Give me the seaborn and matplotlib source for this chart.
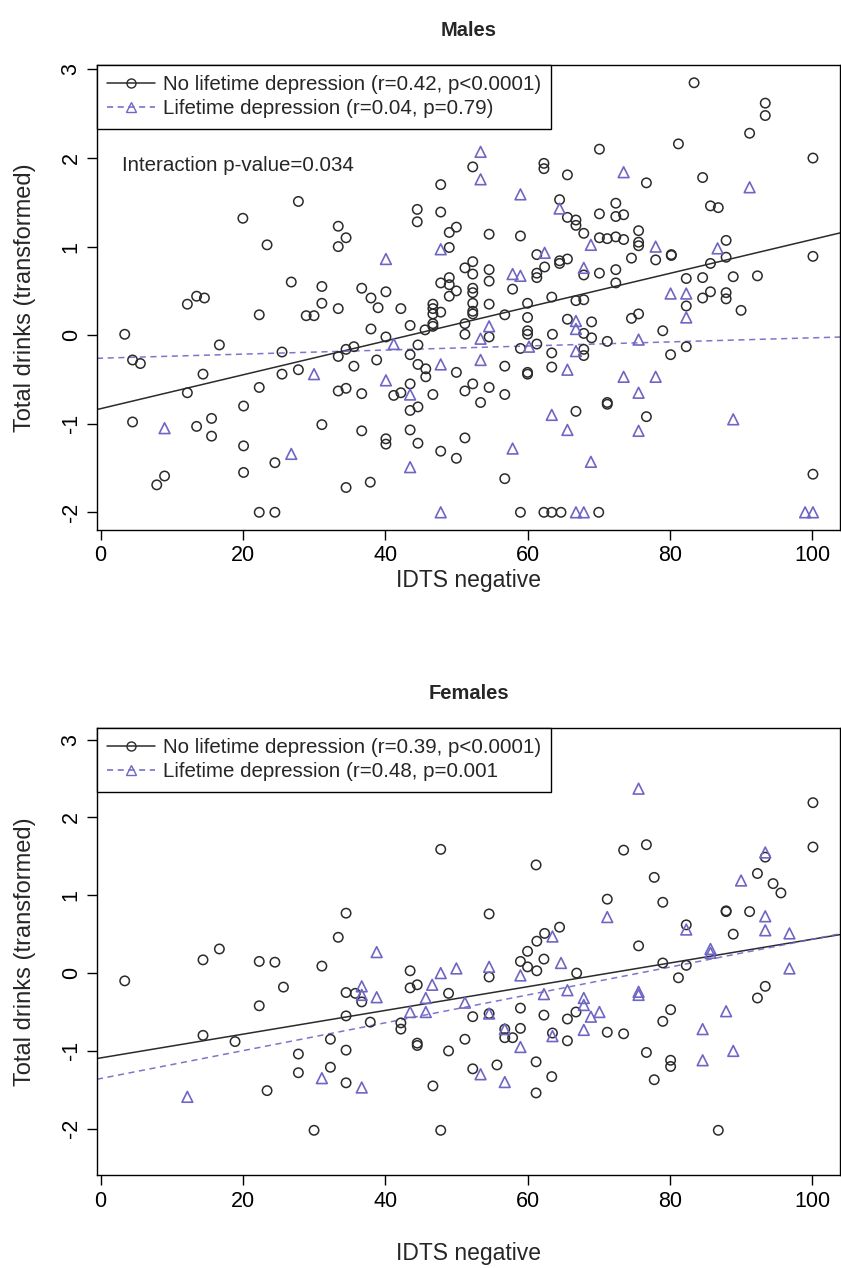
"""Total drinks vs IDTS negative, by sex and lifetime depression."""

import matplotlib

matplotlib.use("Agg")
import matplotlib.pyplot as plt
from matplotlib.lines import Line2D
import pandas as pd
import seaborn as sns

sns.set_theme(style="white")
plt.rcParams["font.family"] = ["Liberation Sans", "DejaVu Sans"]
plt.rcParams["axes.unicode_minus"] = False

INK = "#2b2b2b"
PURPLE = "#6f66c4"

# --- Males: no lifetime depression (x = IDTS negative, y = total drinks) ---
male_none = [
    (83.4, 2.85), (93.4, 2.62), (93.4, 2.48), (91.2, 2.28), (70.1, 2.10), (81.2, 2.16),
    (100.1, 2.0), (76.7, 1.72), (84.6, 1.78), (85.7, 1.46), (86.8, 1.44), (72.4, 1.49),
    (72.4, 1.34), (73.5, 1.36), (70.1, 1.37), (70.1, 1.10), (71.2, 1.09), (72.4, 1.11),
    (73.5, 1.08), (75.6, 1.18), (75.6, 1.05), (75.6, 1.01), (78.0, 0.85), (74.6, 0.87),
    (80.2, 0.90), (80.2, 0.91), (70.1, 0.70), (72.4, 0.74), (72.4, 0.59), (87.9, 1.07),
    (87.9, 0.88), (85.7, 0.81), (82.3, 0.64), (84.6, 0.65), (88.9, 0.66), (92.3, 0.67),
    (100.1, 0.89), (84.6, 0.42), (85.7, 0.49), (87.9, 0.48), (87.9, 0.41), (82.3, 0.33),
    (90.0, 0.28), (74.6, 0.19), (75.6, 0.24), (79.0, 0.05), (69.0, 0.15), (71.2, -0.07),
    (69.0, -0.03),
    (52.3, 1.90), (62.3, 1.94), (62.3, 1.88), (65.6, 1.81), (47.8, 1.70), (64.5, 1.53),
    (44.5, 1.42), (44.5, 1.28), (47.8, 1.39), (65.6, 1.33), (66.8, 1.30), (66.8, 1.24),
    (67.9, 1.15), (50.0, 1.22), (49.0, 1.16), (54.6, 1.14), (59.0, 1.12), (34.5, 1.10),
    (49.0, 0.99), (61.3, 0.91), (52.3, 0.83), (51.2, 0.76), (52.3, 0.69), (54.6, 0.74),
    (54.6, 0.61), (62.4, 0.77), (64.5, 0.84), (64.5, 0.81), (65.6, 0.86), (61.3, 0.70),
    (61.3, 0.65), (67.9, 0.68), (36.7, 0.53), (38.0, 0.42), (39.0, 0.31), (40.1, 0.49),
    (42.2, 0.30), (47.8, 0.59), (49.0, 0.65), (49.0, 0.57), (50.0, 0.50), (49.0, 0.44),
    (52.3, 0.53), (52.3, 0.48), (52.3, 0.36), (52.3, 0.27), (52.3, 0.24), (54.6, 0.35),
    (57.9, 0.52), (46.7, 0.35), (46.7, 0.30), (46.7, 0.24), (47.8, 0.26), (46.7, 0.13),
    (46.7, 0.10), (43.5, 0.11), (45.6, 0.06), (38.0, 0.07), (40.1, -0.02), (51.2, 0.13),
    (56.8, 0.23), (60.0, 0.36), (60.0, 0.20), (60.0, 0.05), (60.0, 0.01), (63.4, 0.43),
    (63.5, 0.01), (65.6, 0.18), (66.8, 0.39), (67.9, 0.40), (67.9, 0.02), (51.2, 0.01),
    (27.8, 1.51), (20.0, 1.32), (23.4, 1.02), (33.4, 1.23), (33.4, 1.00), (26.8, 0.60),
    (31.1, 0.55), (12.2, 0.35), (13.5, 0.44), (14.6, 0.42), (22.3, 0.23), (28.9, 0.22),
    (30.0, 0.22), (31.1, 0.36), (33.4, 0.30), (3.4, 0.01),
    (4.5, -0.28), (5.6, -0.32), (16.7, -0.11), (14.4, -0.44), (12.2, -0.65), (25.5, -0.19),
    (25.5, -0.44), (27.8, -0.39), (33.4, -0.24), (34.5, -0.16), (33.4, -0.63), (34.5, -0.60),
    (22.3, -0.59), (20.1, -0.80), (4.5, -0.98), (13.5, -1.03), (15.6, -0.94), (15.6, -1.14),
    (20.1, -1.25), (20.1, -1.55), (24.5, -1.44), (31.1, -1.01), (7.9, -1.69), (9.0, -1.59),
    (22.3, -2.0), (24.5, -2.0), (34.5, -1.72),
    (35.6, -0.13), (43.5, -0.22), (44.6, -0.11), (35.6, -0.35), (38.8, -0.28), (36.7, -0.66),
    (41.2, -0.68), (42.2, -0.65), (43.5, -0.55), (44.6, -0.33), (45.7, -0.38), (45.7, -0.47),
    (50.0, -0.42), (43.5, -0.85), (44.6, -0.81), (46.7, -0.67), (51.2, -0.63), (52.3, -0.55),
    (54.6, -0.59), (53.4, -0.76), (56.8, -0.35), (56.8, -0.67), (59.0, -0.15), (61.3, -0.10),
    (60.0, -0.42), (60.0, -0.44), (63.4, -0.20), (63.4, -0.36), (67.9, -0.16), (67.9, -0.23),
    (36.7, -1.08), (40.1, -1.17), (40.1, -1.23), (43.5, -1.07), (44.6, -1.22), (47.8, -1.31),
    (50.0, -1.39), (51.2, -1.16), (56.8, -1.62), (37.9, -1.66), (59.0, -2.0), (62.3, -2.0),
    (63.4, -2.0), (64.7, -2.0), (70.0, -2.0), (66.8, -0.86), (54.6, -0.02),
    (80.1, -0.22), (82.3, -0.13), (71.2, -0.76), (71.2, -0.78), (76.7, -0.92), (100.1, -1.57),
]

# --- Males: lifetime depression ---
male_dep = [
    (53.4, 2.07), (53.4, 1.76), (59.0, 1.59), (64.5, 1.43), (73.5, 1.84), (91.2, 1.67),
    (68.9, 1.02), (47.8, 0.97), (40.1, 0.86), (62.4, 0.93), (57.9, 0.69), (59.0, 0.67),
    (67.9, 0.76), (78.0, 1.00), (86.7, 0.98), (80.1, 0.47), (82.3, 0.47), (82.3, 0.20),
    (75.6, -0.05), (54.6, 0.10), (66.8, 0.16), (66.8, 0.07), (53.4, -0.04), (41.2, -0.10),
    (30.0, -0.44), (9.0, -1.05), (26.8, -1.34), (40.1, -0.51), (43.5, -0.67), (47.8, -0.33),
    (53.4, -0.28), (60.2, -0.13), (65.6, -0.39), (66.8, -0.18), (43.5, -1.49), (57.9, -1.28),
    (47.8, -2.0), (66.8, -2.0), (67.9, -2.0), (63.4, -0.90), (65.6, -1.07), (68.9, -1.43),
    (73.5, -0.47), (78.0, -0.47), (75.6, -0.65), (75.6, -1.08), (88.9, -0.95), (99.0, -2.0),
    (100.1, -2.0),
]

# --- Females: no lifetime depression ---
female_none = [
    (34.5, 0.77), (33.4, 0.46), (16.7, 0.31), (14.4, 0.17), (22.3, 0.15), (24.5, 0.14),
    (31.1, 0.09), (3.4, -0.10), (25.7, -0.18), (34.5, -0.25), (22.3, -0.42), (34.5, -0.55),
    (14.4, -0.80), (18.9, -0.88), (27.8, -1.04), (27.8, -1.28), (32.3, -0.85), (32.3, -1.21),
    (34.5, -0.99), (34.5, -1.41), (23.4, -1.51), (30.0, -2.02),
    (47.8, 1.59), (61.2, 1.39), (54.6, 0.76), (64.5, 0.59), (62.4, 0.51), (61.3, 0.41),
    (60.0, 0.28), (59.0, 0.15), (60.0, 0.08), (61.3, 0.03), (62.3, 0.18), (66.9, 0.00),
    (43.5, 0.03), (54.6, -0.05), (44.5, -0.15), (43.5, -0.19),
    (35.8, -0.26), (36.7, -0.37), (48.9, -0.26), (37.9, -0.63), (42.2, -0.64), (42.2, -0.72),
    (52.3, -0.56), (54.6, -0.52), (59.0, -0.45), (62.3, -0.54), (65.6, -0.59), (66.8, -0.50),
    (65.6, -0.87), (63.5, -0.77), (56.8, -0.72), (56.8, -0.83), (57.9, -0.83), (59.0, -0.71),
    (44.5, -0.90), (44.5, -0.93), (48.9, -1.00), (51.2, -0.85), (46.7, -1.45), (52.3, -1.23),
    (55.7, -1.18), (61.2, -1.14), (63.4, -1.33), (61.2, -1.54), (47.8, -2.02),
    (100.1, 2.19), (100.1, 1.62), (93.4, 1.49), (73.5, 1.58), (76.7, 1.65), (92.3, 1.28),
    (94.5, 1.15), (95.6, 1.03), (77.8, 1.23), (71.2, 0.95), (79.0, 0.91), (87.9, 0.79),
    (87.9, 0.80), (91.2, 0.79), (82.3, 0.62), (88.9, 0.50), (75.6, 0.35), (79.0, 0.13),
    (82.3, 0.10), (81.2, -0.06), (93.4, -0.17),
    (92.3, -0.32), (80.1, -0.47), (79.0, -0.62), (71.2, -0.76), (73.5, -0.78), (76.7, -1.02),
    (80.1, -1.12), (80.1, -1.20), (77.8, -1.37), (86.8, -2.02),
]

# --- Females: lifetime depression ---
female_dep = [
    (12.2, -1.59), (31.1, -1.35), (38.8, 0.27), (63.5, 0.47), (64.7, 0.13), (59.0, -0.03),
    (47.8, 0.00), (50.0, 0.06), (54.6, 0.08), (46.6, -0.15), (36.7, -0.17), (36.7, -0.28),
    (38.8, -0.31), (45.7, -0.32), (43.5, -0.50), (45.7, -0.50), (51.2, -0.38), (54.6, -0.52),
    (62.3, -0.27), (65.6, -0.22), (67.9, -0.32), (67.9, -0.41), (68.9, -0.56), (67.9, -0.73),
    (63.5, -0.81), (56.8, -0.72), (59.0, -0.95), (36.7, -1.47), (53.4, -1.30), (56.8, -1.40),
    (75.6, 2.37), (93.4, 1.55), (90.0, 1.19), (71.2, 0.72), (93.4, 0.73), (93.4, 0.55),
    (82.3, 0.56), (96.8, 0.51), (85.7, 0.31), (85.7, 0.26), (96.8, 0.06), (75.6, -0.24),
    (75.6, -0.28), (87.9, -0.49), (84.6, -0.72), (88.9, -1.00), (84.6, -1.12), (70.1, -0.50),
]

# fitted lines: (intercept, slope)
male_fits = [(-0.83, 0.0191), (-0.26, 0.0023)]
female_fits = [(-1.09, 0.01525), (-1.355, 0.0179)]

male_labels = ["No lifetime depression (r=0.42, p<0.0001)",
               "Lifetime depression (r=0.04, p=0.79)"]
female_labels = ["No lifetime depression (r=0.39, p<0.0001)",
                 "Lifetime depression (r=0.48, p=0.001"]

x_ticks = [0, 20, 40, 60, 80, 100]
y_ticks = [-2, -1, 0, 1, 2, 3]


def panel(ax, title, none_pts, dep_pts, fits, labels, ylim, xpad, note=None):
    none_df = pd.DataFrame(none_pts, columns=["idts", "drinks"])
    dep_df = pd.DataFrame(dep_pts, columns=["idts", "drinks"])
    sns.scatterplot(data=none_df, x="idts", y="drinks", marker="o", s=46,
                    facecolor="none", edgecolor=INK, linewidth=1.1, ax=ax, zorder=3)
    sns.scatterplot(data=dep_df, x="idts", y="drinks", marker="^", s=60,
                    facecolor="none", edgecolor=PURPLE, linewidth=1.2, ax=ax, zorder=3)
    ax.axline((0, fits[0][0]), slope=fits[0][1], color=INK, lw=1.1, zorder=2)
    ax.axline((0, fits[1][0]), slope=fits[1][1], color=PURPLE, lw=1.1,
              ls=(0, (4, 3)), alpha=0.9, zorder=2)

    ax.set_xlim(-0.5, 103.9)
    ax.set_ylim(*ylim)
    ax.set_xticks(x_ticks)
    ax.set_yticks(y_ticks)
    ax.tick_params(axis="both", direction="out", length=7, width=1,
                   labelsize=15.5, left=True, bottom=True, colors="black", pad=4)
    for lab in ax.get_yticklabels():
        lab.set_rotation(90)
        lab.set_va("center")
    for sp in ax.spines.values():
        sp.set_color("black")
        sp.set_linewidth(1.0)
    ax.set_xlabel("IDTS negative", fontsize=16.5, labelpad=xpad)
    ax.set_ylabel("Total drinks (transformed)", fontsize=17, labelpad=18)
    ax.set_title(title, fontsize=14.5, fontweight="bold", pad=21)

    handles = [
        Line2D([], [], color=INK, lw=1.1, marker="o", mfc="none", mec=INK, ms=6.5),
        Line2D([], [], color=PURPLE, lw=1.1, ls=(0, (4, 3)), marker="^", mfc="none",
               mec=PURPLE, ms=7.5),
    ]
    leg = ax.legend(handles, labels, loc="upper left", borderaxespad=0, frameon=True,
                    fancybox=False, fontsize=14.8, handlelength=2.3, handletextpad=0.4,
                    borderpad=0.5, labelspacing=0.25)
    leg.get_frame().set_edgecolor("black")
    leg.get_frame().set_linewidth(1.0)
    leg.get_frame().set_alpha(1)
    if note:
        ax.text(0.034, 0.785, note, transform=ax.transAxes, fontsize=14.8,
                ha="left", va="center")


fig = plt.figure(figsize=(8.41, 12.68), dpi=100)
ax_m = fig.add_axes([0.1153, 0.582, 0.8835, 0.3667])
ax_f = fig.add_axes([0.1153, 0.073, 0.8835, 0.3529])

panel(ax_m, "Males", male_none, male_dep, male_fits, male_labels, (-2.2, 3.05), xpad=2,
      note="Interaction p-value=0.034")
panel(ax_f, "Females", female_none, female_dep, female_fits, female_labels,
      (-2.6, 3.15), xpad=22)

fig.savefig("out.png", dpi=100)
plt.close(fig)
